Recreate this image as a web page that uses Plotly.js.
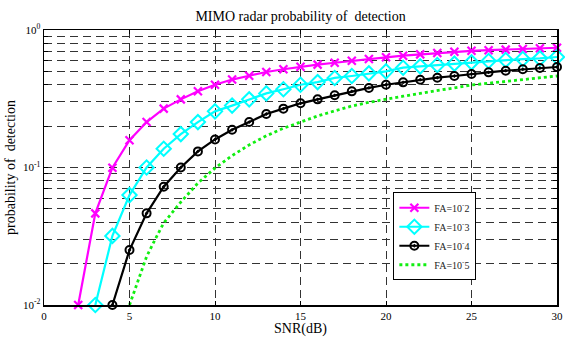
<!DOCTYPE html>
<html>
<head>
<meta charset="utf-8">
<script src="https://cdn.plot.ly/plotly-3.0.1.min.js"></script>
<style>
html,body{margin:0;padding:0;background:#fff;}
#chart{width:565px;height:337px;}
</style>
</head>
<body>
<div id="chart"></div>
<script>
// SNR values (dB)
const snrFA2 = [2,3,4,5,6,7,8,9,10,11,12,13,14,15,16,17,18,19,20,21,22,23,24,25,26,27,28,29,30];
const pdFA2  = [0.010,0.0464,0.0997,0.158,0.214,0.268,0.313,0.358,0.400,0.436,0.465,0.495,0.518,0.541,0.560,0.578,0.598,0.615,0.633,0.650,0.665,0.680,0.695,0.706,0.713,0.720,0.728,0.736,0.743];

const snrFA3 = [3,4,5,6,7,8,9,10,11,12,13,14,15,16,17,18,19,20,21,22,23,24,25,26,27,28,29,30];
const pdFA3  = [0.010,0.0318,0.063,0.100,0.137,0.175,0.214,0.256,0.282,0.313,0.346,0.371,0.400,0.418,0.448,0.463,0.484,0.500,0.532,0.544,0.556,0.569,0.582,0.595,0.605,0.615,0.622,0.636];

const snrFA4 = [4,5,6,7,8,9,10,11,12,13,14,15,16,17,18,19,20,21,22,23,24,25,26,27,28,29,30];
const pdFA4  = [0.010,0.0251,0.0464,0.0725,0.100,0.131,0.160,0.188,0.214,0.245,0.268,0.293,0.313,0.335,0.358,0.379,0.400,0.416,0.435,0.450,0.463,0.479,0.492,0.506,0.518,0.529,0.538];

const snrFA5 = [5,5.5,6,6.5,7,8,9,10,11,12,13,14,15,16,17,18,19,20,21,22,23,24,25,26,27,28,29,30];
const pdFA5  = [0.010,0.0152,0.0225,0.030,0.0395,0.056,0.077,0.099,0.122,0.146,0.170,0.193,0.215,0.237,0.258,0.280,0.298,0.315,0.330,0.346,0.362,0.380,0.398,0.410,0.422,0.436,0.450,0.463];

const seriesNames = ['FA=10<sup>-</sup>2','FA=10<sup>-</sup>3','FA=10<sup>-</sup>4','FA=10<sup>-</sup>5'];

// y tick values and labels
const yTickVals = [0.01,0.02,0.03,0.04,0.05,0.06,0.07,0.08,0.09,0.1,0.2,0.3,0.4,0.5,0.6,0.7,0.8,0.9,1];
const yTickText = ['10<sup>-2</sup>','','','','','','','','','10<sup>-1</sup>','','','','','','','','','10<sup>0</sup>'];

const serif = '"Liberation Serif","Times New Roman",serif';

const traces = [
  {x: snrFA2, y: pdFA2, name: seriesNames[0], mode: 'lines+markers', cliponaxis: false,
   line: {color: '#ff00ff', width: 2.2},
   marker: {symbol: 'x-thin-open', size: 8, color: '#ff00ff', line: {color: '#ff00ff', width: 2.2}}},
  {x: snrFA3, y: pdFA3, name: seriesNames[1], mode: 'lines+markers', cliponaxis: false,
   line: {color: '#00ffff', width: 2.2},
   marker: {symbol: 'diamond-open', size: 11, color: '#00ffff', line: {color: '#00ffff', width: 2}}},
  {x: snrFA4, y: pdFA4, name: seriesNames[2], mode: 'lines+markers', cliponaxis: false,
   line: {color: '#000000', width: 2.2},
   marker: {symbol: 'circle-open-dot', size: 8, color: '#000000', line: {color: '#000000', width: 2}}},
  {x: snrFA5, y: pdFA5, name: seriesNames[3], mode: 'lines', cliponaxis: false,
   line: {color: '#11ee11', width: 2.8, dash: 'dot'}}
];

const layout = {
  width: 565, height: 337,
  margin: {l: 44, r: 8, t: 30, b: 32, pad: 0},
  paper_bgcolor: '#ffffff', plot_bgcolor: '#ffffff',
  font: {family: serif, size: 11, color: '#000'},
  title: {text: 'MIMO radar probability of  detection', font: {family: serif, size: 14, color: '#000'},
          x: 0.532, xref: 'container', y: 0.953, yref: 'container', xanchor: 'center', yanchor: 'middle'},
  showlegend: true,
  legend: {x: 0.681, y: 0.41, xanchor: 'left', yanchor: 'top', xref: 'paper', yref: 'paper',
           bgcolor: '#ffffff', bordercolor: '#000', borderwidth: 1,
           font: {family: serif, size: 10, color: '#222'}, tracegroupgap: 0, itemwidth: 30},
  xaxis: {
    range: [0, 30], dtick: 5, tick0: 0,
    showgrid: true, gridcolor: '#333', griddash: '8px,5px', gridwidth: 1,
    zeroline: false, showline: true, linecolor: '#000', linewidth: 1.5, mirror: 'ticks',
    ticks: 'inside', ticklen: 4, tickcolor: '#000',
    tickfont: {family: serif, size: 11, color: '#000'},
    title: {text: 'SNR(dB)', font: {family: serif, size: 14, color: '#000'}, standoff: 3}
  },
  yaxis: {
    type: 'log', range: [-2, 0],
    tickmode: 'array', tickvals: yTickVals, ticktext: yTickText,
    showgrid: true, gridcolor: '#333', griddash: '8px,5px', gridwidth: 1,
    zeroline: false, showline: true, linecolor: '#000', linewidth: 1.5, mirror: 'ticks',
    ticks: 'inside', ticklen: 4, tickcolor: '#000',
    tickfont: {family: serif, size: 11, color: '#000'},
    title: {text: 'probability of  detection', font: {family: serif, size: 14, color: '#000'}, standoff: 4}
  }
};

Plotly.newPlot('chart', traces, layout, {displayModeBar: false, staticPlot: true});
</script>
</body>
</html>
